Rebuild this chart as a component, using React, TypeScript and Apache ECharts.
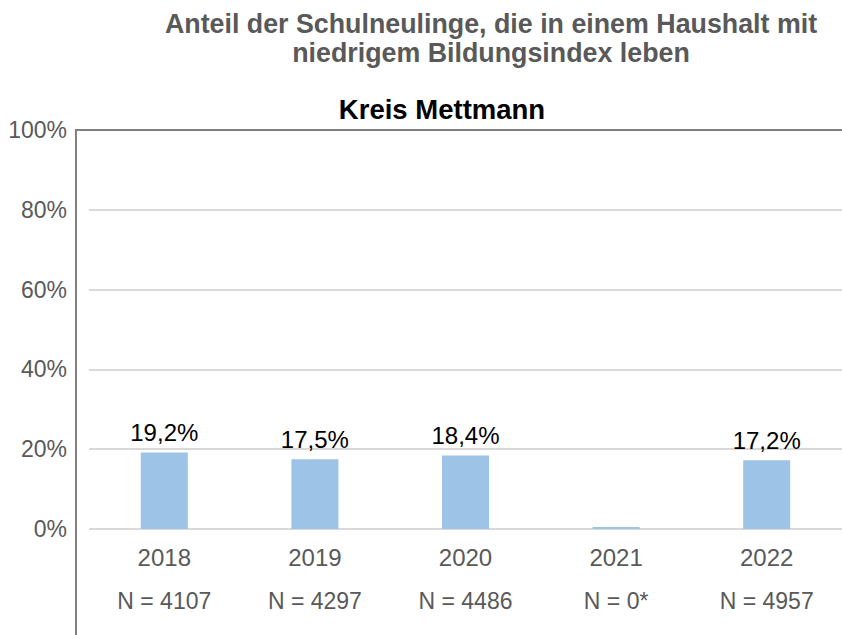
import React, { useEffect, useRef } from "react";
import * as echarts from "echarts";

const years = ["2018", "2019", "2020", "2021", "2022"];
const sampleSizes = ["N = 4107", "N = 4297", "N = 4486", "N = 0*", "N = 4957"];
const shares = [19.2, 17.5, 18.4, 0.5, 17.2];
const showValueLabel = [true, true, true, false, true];
const yTicks = [0, 20, 40, 60, 80, 100];

const FONT = "'Liberation Sans', Arial, sans-serif";

export default function App() {
  const ref = useRef<HTMLDivElement>(null);
  useEffect(() => {
    if (!ref.current) return;
    const chart = echarts.init(ref.current, null, { renderer: "svg" });
    chart.setOption({
      animation: false,
      backgroundColor: "#ffffff",
      textStyle: { fontFamily: FONT },
      title: [
        {
          text: "Anteil der Schulneulinge, die in einem Haushalt mit\nniedrigem Bildungsindex leben",
          left: 486,
          top: 4,
          textAlign: "center",
          textStyle: { fontFamily: FONT, fontSize: 26.8, fontWeight: "bold", color: "#595959", lineHeight: 29 },
        },
        {
          text: "Kreis Mettmann",
          left: 437,
          top: 90,
          textAlign: "center",
          textStyle: { fontFamily: FONT, fontSize: 27.5, fontWeight: "bold", color: "#000000" },
        },
      ],
      grid: { left: 89, right: -3, top: 130, bottom: 106, containLabel: false },
      xAxis: {
        type: "category",
        data: years,
        boundaryGap: true,
        axisLine: { show: false },
        axisTick: { show: false },
        axisLabel: {
          margin: 6,
          formatter: (v: string) => {
            const i = years.indexOf(v);
            return `{y|${v}}\n{n|${sampleSizes[i]}}`;
          },
          rich: {
            y: { fontFamily: FONT, fontSize: 24, color: "#595959", lineHeight: 44 },
            n: { fontFamily: FONT, fontSize: 23, color: "#595959", lineHeight: 44 },
          },
        },
      },
      yAxis: {
        type: "value",
        min: yTicks[0],
        max: yTicks[yTicks.length - 1],
        interval: 20,
        axisLine: { show: false },
        axisTick: { show: false },
        axisLabel: {
          margin: 22,
          formatter: "{value}%",
          fontFamily: FONT,
          fontSize: 23,
          color: "#595959",
        },
        splitLine: { lineStyle: { color: "#D9D9D9", width: 2 } },
      },
      series: [
        {
          type: "bar",
          data: shares.map((v, i) => ({
            value: v,
            label: { show: showValueLabel[i] },
          })),
          barWidth: 47,
          itemStyle: { color: "#9DC3E6" },
          label: {
            show: true,
            position: "top",
            distance: 8,
            fontFamily: FONT,
            fontSize: 24,
            color: "#000000",
            formatter: (p: any) => p.value.toFixed(1).replace(".", ",") + "%",
          },
        },
      ],
      graphic: [
        {
          type: "line",
          z: 100,
          shape: { x1: 76, y1: 130, x2: 76, y2: 635 },
          style: { stroke: "#808080", lineWidth: 2 },
        },
        {
          type: "line",
          z: 100,
          shape: { x1: 75, y1: 130, x2: 842, y2: 130 },
          style: { stroke: "#808080", lineWidth: 2 },
        },
      ],
    });
    return () => chart.dispose();
  }, []);
  return <div ref={ref} style={{ width: 842, height: 635, position: "absolute", left: 0, top: 0 }} />;
}
